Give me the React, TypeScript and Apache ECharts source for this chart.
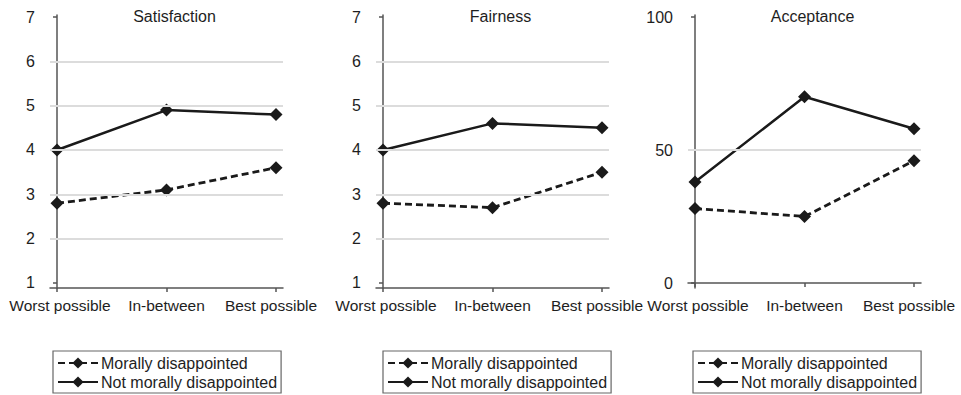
import React, { useEffect, useRef } from "react";
import * as echarts from "echarts";

const categories = ["Worst possible", "In-between", "Best possible"];
const panelTitles = ["Satisfaction", "Fairness", "Acceptance"];
const seriesNames = ["Morally disappointed", "Not morally disappointed"];

const satisfactionMoral = [2.8, 3.1, 3.6];
const satisfactionNot = [4.0, 4.9, 4.8];
const fairnessMoral = [2.8, 2.7, 3.5];
const fairnessNot = [4.0, 4.6, 4.5];
const acceptanceMoral = [28, 25, 46];
const acceptanceNot = [38, 70, 58];

const scaleTicks = [1, 2, 3, 4, 5, 6, 7];
const scaleGridLines = [2, 3, 4, 5, 6];
const acceptanceTicks = [0, 50, 100];
const acceptanceGridLines = [50];

const FONT = "'Liberation Sans', Arial, sans-serif";
const INK = "#1a1a1a";
const labelStyleKeys = ["first", "mid", "last"];

export default function App() {
  const ref = useRef<HTMLDivElement>(null);

  useEffect(() => {
    if (!ref.current) return;
    const chart = echarts.init(ref.current, null, { renderer: "svg" });

    const panels = [
      { title: panelTitles[0], moral: satisfactionMoral, not: satisfactionNot, ticks: scaleTicks, grid: scaleGridLines, min: 1 - 5 / 44.33, max: 7 + 2 / 44.33, left: 50, legendLeft: 53 },
      { title: panelTitles[1], moral: fairnessMoral, not: fairnessNot, ticks: scaleTicks, grid: scaleGridLines, min: 1 - 5 / 44.33, max: 7 + 2 / 44.33, left: 376, legendLeft: 383 },
      { title: panelTitles[2], moral: acceptanceMoral, not: acceptanceNot, ticks: acceptanceTicks, grid: acceptanceGridLines, min: -5 / 2.66, max: 100 + 2 / 2.66, left: 688, legendLeft: 693 },
    ];

    const gridW = 233;
    const xMin = -7 / 109.5;
    const xMax = 2 + 7 / 109.5;

    const grids: any[] = [];
    const xAxes: any[] = [];
    const yAxes: any[] = [];
    const series: any[] = [];
    const legends: any[] = [];
    const graphics: any[] = [];

    const labelText = { color: "#1e1e1e", fontSize: 15.5, fontFamily: FONT };

    panels.forEach((p, i) => {
      grids.push({ left: p.left, top: 15, width: gridW, height: 273, containLabel: false });
      xAxes.push({
        type: "value",
        gridIndex: i,
        min: xMin,
        max: xMax,
        axisLine: { show: true, lineStyle: { color: "#555", width: 1.5 } },
        axisTick: { show: true, length: 4, customValues: [0, 1, 2], lineStyle: { color: "#555", width: 1.5 } },
        axisLabel: {
          customValues: [0, 1, 2],
          formatter: (v: number) => {
            const k = Math.round(v);
            return `{${labelStyleKeys[k]}|${categories[k]}}`;
          },
          ...labelText,
          margin: 9,
          rich: {
            first: { ...labelText, padding: [0, 0, 0, 6] },
            mid: { ...labelText },
            last: { ...labelText, padding: [0, 10, 0, 0] },
          },
        },
        splitLine: { show: false },
      });
      yAxes.push({
        type: "value",
        gridIndex: i,
        min: p.min,
        max: p.max,
        axisLine: { show: true, lineStyle: { color: "#555", width: 1.5 } },
        axisTick: { show: true, length: 4, customValues: p.ticks, lineStyle: { color: "#555", width: 1.5 } },
        axisLabel: {
          customValues: p.ticks,
          color: "#1e1e1e",
          fontSize: 16,
          fontFamily: FONT,
          margin: 15,
        },
        splitLine: { show: false },
      });
      const mk = (vals: number[]) => vals.map((v, k) => [k, v]);
      series.push({
        name: "gridlines",
        type: "line",
        xAxisIndex: i,
        yAxisIndex: i,
        data: [],
        silent: true,
        z: 1,
        markLine: {
          silent: true,
          symbol: "none",
          label: { show: false },
          lineStyle: { color: "#dcdcdc", width: 2, type: "solid", opacity: 1 },
          emphasis: { disabled: true },
          data: p.grid.map((g) => ({ yAxis: g })),
        },
      });
      series.push({
        name: seriesNames[0],
        type: "line",
        xAxisIndex: i,
        yAxisIndex: i,
        data: mk(p.moral),
        symbol: "diamond",
        symbolSize: 13,
        itemStyle: { color: INK },
        lineStyle: { color: INK, width: 2.8, type: [7, 4] },
        z: 3,
      });
      series.push({
        name: seriesNames[1],
        type: "line",
        xAxisIndex: i,
        yAxisIndex: i,
        data: mk(p.not),
        symbol: "diamond",
        symbolSize: 13,
        itemStyle: { color: INK },
        lineStyle: { color: INK, width: 2.5, type: "solid" },
        z: 3,
      });
      legends.push({
        data: seriesNames,
        orient: "vertical",
        left: p.legendLeft,
        top: 351,
        height: 120,
        itemWidth: 40,
        itemHeight: 14,
        itemGap: 3,
        padding: [4, 4, 3, 4],
        borderColor: "#666",
        borderWidth: 1.2,
        textStyle: { color: "#1e1e1e", fontSize: 16, fontFamily: FONT, padding: [0, 0, 0, -2] },
      });
      graphics.push({
        type: "text",
        x: p.left + gridW / 2 + 8,
        y: 16,
        style: {
          text: p.title,
          textAlign: "center",
          textVerticalAlign: "middle",
          fontSize: 16,
          fontFamily: FONT,
          fill: "#1e1e1e",
        },
      });
    });

    chart.setOption({
      animation: false,
      backgroundColor: "#fff",
      grid: grids,
      xAxis: xAxes,
      yAxis: yAxes,
      series,
      legend: legends,
      graphic: graphics,
    });

    return () => chart.dispose();
  }, []);

  return <div ref={ref} style={{ width: 961, height: 395, position: "absolute", left: 0, top: 0 }} />;
}
